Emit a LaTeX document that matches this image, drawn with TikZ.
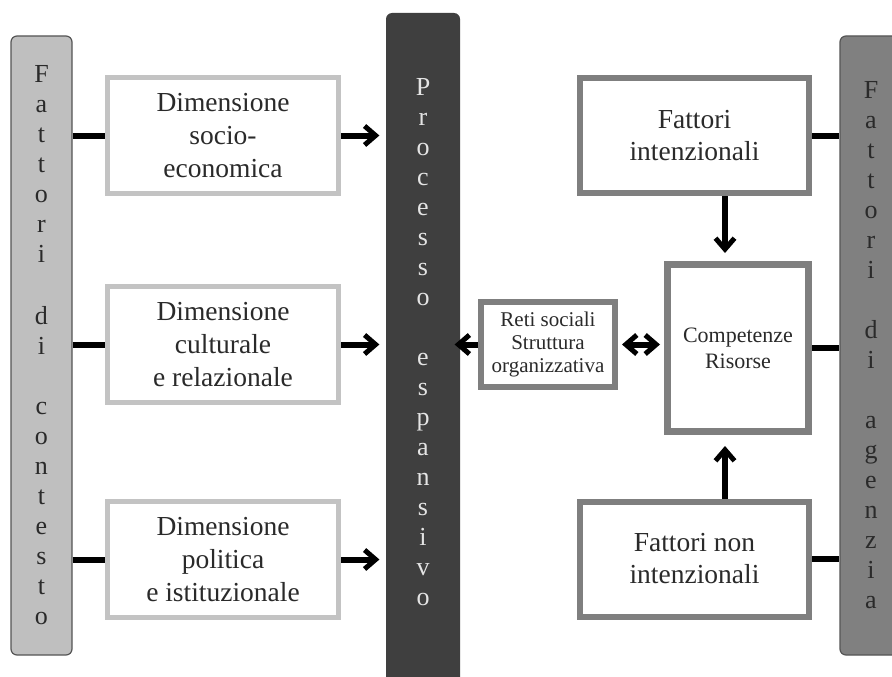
\documentclass[tikz,border=0pt]{standalone}
\usepackage{fontspec}
\setmainfont{Liberation Serif}
\usepackage{xcolor}
\usepackage{tikz}
\usetikzlibrary{positioning,arrows.meta}

\definecolor{ctxgray}{HTML}{BFBFBF}
\definecolor{agzgray}{HTML}{808080}
\definecolor{procgray}{HTML}{3F3F3F}
\definecolor{barline}{HTML}{555555}
\definecolor{dimline}{HTML}{C3C3C3}
\definecolor{agline}{HTML}{7F7F7F}
\definecolor{ink}{HTML}{2A2A2A}
\definecolor{procink}{HTML}{E4E4E4}

\begin{document}
\begin{tikzpicture}
      [ x=1pt, y=-1pt,
        >={Straight Barb[length=11pt,width=19pt,line width=5pt 0]},
        bar/.style={draw=barline, line width=1.2pt, rounded corners=6pt,
          inner sep=0pt, minimum width=61pt, minimum height=619pt,
          align=center, font=\fontsize{26}{30}\selectfont},
        dimbox/.style={draw=dimline, line width=5pt, fill=white,
          minimum width=231pt, minimum height=116pt, align=center,
          text=ink, font=\fontsize{27.5}{33}\selectfont},
        agbox/.style={draw=agline, line width=6pt, fill=white,
          align=center, text=ink},
        link/.style={line width=6pt}
      ]
      \clip (0,0) rectangle (892,677);

      % bars
      \node[bar,fill=ctxgray,text=ink] (ctx) at (41.5,345.5)
        {F\\a\\t\\t\\o\\r\\i\\[32pt]d\\i\\[30pt]c\\o\\n\\t\\e\\s\\t\\o};
      \node[bar,draw=none,fill=procgray,minimum width=74pt,minimum height=690pt,
            label={[name=procTxt,text=procink,align=center,yshift=15.5pt,
                    font=\fontsize{26}{30}\selectfont]center:
              P\\r\\o\\c\\e\\s\\s\\o\\[30pt]e\\s\\p\\a\\n\\s\\i\\v\\o}]
            (proc) at (423,358) {};
      \node[bar,fill=agzgray,text=ink,minimum width=62pt] (agz) at (871,345.5)
        {F\\a\\t\\t\\o\\r\\i\\[30pt]d\\i\\[30pt]a\\g\\e\\n\\z\\i\\a};

      % dimensioni
      \node[dimbox] (dim1) at (223,135.5)       {Dimensione\\socio-\\economica};
      \node[dimbox] (dim2) [below=88pt of dim1] {Dimensione\\culturale\\e relazionale};
      \node[dimbox] (dim3) [below=94pt of dim2] {Dimensione\\politica\\e istituzionale};

      % fattori di agenzia
      \node[agbox,minimum width=229pt,minimum height=115pt,
            font=\fontsize{27.5}{32}\selectfont] (fint) at (694.5,135.5)
        {Fattori\\intenzionali};
      \node[agbox,minimum width=229pt,minimum height=115pt,
            font=\fontsize{27.5}{32}\selectfont] (fnon) at (694.5,559)
        {Fattori non\\intenzionali};
      \node[agbox,line width=7pt,minimum width=141pt,minimum height=167pt,
            font=\fontsize{22}{26}\selectfont] (comp) at (738,348)
        {Competenze\\Risorse};
      \node[agbox,minimum width=134pt,minimum height=85pt,inner sep=2pt,
            font=\fontsize{21}{23}\selectfont] (reti) at (548,344.5)
        {Reti sociali\\Struttura\\organizzativa};

      \draw[link] (ctx.east |- dim1) -- (dim1.west);
      \draw[link] (ctx.east |- dim2) -- (dim2.west);
      \draw[link] (ctx.east |- dim3) -- (dim3.west);
      \draw[link] (fint.east) -- (fint.east -| agz.west);
      \draw[link] (comp.east) -- (comp.east -| agz.west);
      \draw[link] (fnon.east) -- (fnon.east -| agz.west);

      \path[->,link] (dim1.east) edge [shorten >=6pt] (dim1.east -| proc.west)
                     (dim2.east) edge [shorten >=6pt] (dim2.east -| proc.west)
                     (dim3.east) edge [shorten >=6pt] (dim3.east -| proc.west)
                     (reti.west) edge [shorten >=-6pt] (reti.west -| proc.east)
                     (reti.east) edge [<->,shorten <=4pt,shorten >=4pt] (reti.east -| comp.west)
                     ([xshift=30.5pt]fint.south) edge [shorten >=8pt]
                       ([xshift=-13pt]comp.north)
                     ([xshift=30.5pt]fnon.north) edge [shorten >=11pt]
                       ([xshift=-13pt]comp.south);
    \end{tikzpicture}
\end{document}
